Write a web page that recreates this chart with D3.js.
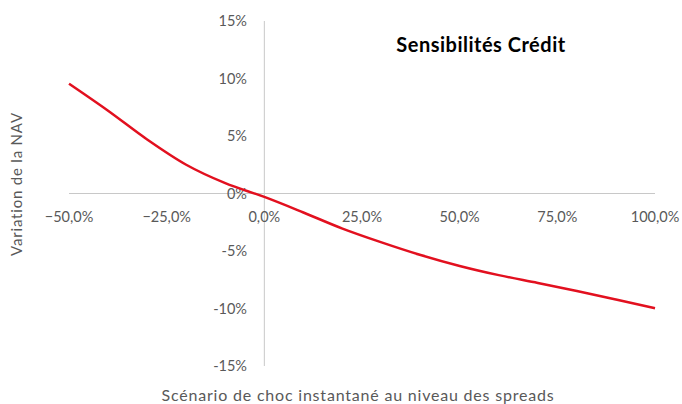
<!DOCTYPE html>
<html><head><meta charset="utf-8">
<script src="https://cdn.jsdelivr.net/npm/d3@7"></script>
<style>body{margin:0;background:#fff}svg{display:block}</style>
</head><body>
<svg id="c" width="682" height="404"></svg>
<script>
const shocks = [-50,-40,-30,-20,-10,0,10,20,30,40,50,60,70,80,90,100];
const navChange = [9.55,7.2,4.7,2.5,0.9,-0.3,-1.65,-3.05,-4.25,-5.35,-6.3,-7.1,-7.78,-8.48,-9.22,-9.98];
const xTicks = [-50,-25,0,25,50,75,100];
const yTicks = [-15,-10,-5,0,5,10,15];
const title = "Sensibilités Crédit";
const xTitle = "Scénario de choc instantané au niveau des spreads";
const yTitle = "Variation de la NAV";

const svg = d3.select("#c");
const x = d3.scaleLinear().domain([-50,100]).range([69,655]);
const y = d3.scaleLinear().domain([-15,15]).range([366,21]);
const font = "Lato, 'Open Sans', sans-serif";
const grey = "#595959";

// axis lines
svg.append("line").attr("x1",x(-50)).attr("x2",x(100)).attr("y1",y(0)).attr("y2",y(0))
  .attr("stroke","#c8c8c8").attr("stroke-width",1);
svg.append("line").attr("x1",x(0)).attr("x2",x(0)).attr("y1",y(15)).attr("y2",y(-15))
  .attr("stroke","#c8c8c8").attr("stroke-width",1);

// x tick labels
const fmtX = v => d3.format(".1f")(v).replace(".",",") + "%";
svg.append("g").selectAll("text").data(xTicks).join("text")
  .attr("x", d => x(d)).attr("y", 222)
  .attr("text-anchor","middle").attr("font-family",font).attr("font-size",14.5).attr("fill",grey)
  .text(fmtX);

// y tick labels
svg.append("g").selectAll("text").data(yTicks).join("text")
  .attr("x", 247).attr("y", d => y(d) + 5)
  .attr("text-anchor","end").attr("font-family",font).attr("font-size",14.5).attr("fill",grey)
  .text(d => d + "%");

// line
const line = d3.line().x((d,i)=>x(shocks[i])).y(d=>y(d)).curve(d3.curveMonotoneX);
svg.append("path").datum(navChange).attr("d",line)
  .attr("fill","none").attr("stroke","#e2101f").attr("stroke-width",2.5);

// title
svg.append("text").attr("x",481).attr("y",52).attr("text-anchor","middle")
  .attr("font-family",font).attr("font-weight","bold").attr("font-size",20).attr("fill","#000")
  .attr("letter-spacing",0.5)
  .text(title);

// axis titles
svg.append("text").attr("x",358).attr("y",401).attr("text-anchor","middle")
  .attr("font-family",font).attr("font-size",16).attr("fill",grey).attr("letter-spacing",0.8)
  .text(xTitle);
svg.append("text").attr("transform","translate(22,184) rotate(-90)").attr("text-anchor","middle")
  .attr("font-family",font).attr("font-size",15).attr("fill",grey).attr("letter-spacing",0.8)
  .text(yTitle);
</script>
</body></html>
